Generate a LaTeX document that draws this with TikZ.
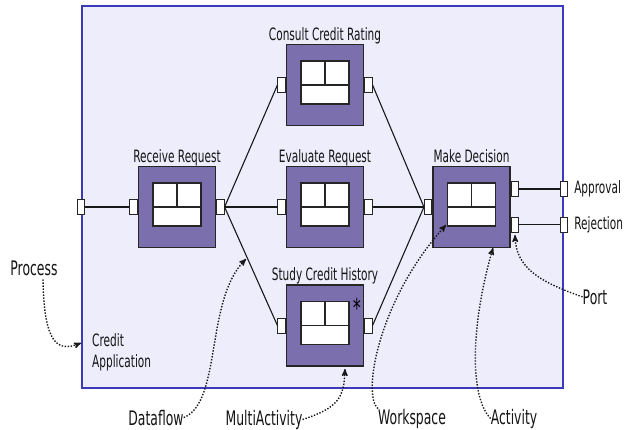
\documentclass[tikz,border=0pt]{standalone}
\usepackage{fontspec}
\setmainfont{DejaVu Sans}[FakeStretch=0.62]
\usetikzlibrary{arrows,positioning,calc}
\definecolor{actfill}{RGB}{124,111,173}
\definecolor{procfill}{RGB}{237,237,252}
\definecolor{procline}{RGB}{58,58,186}
\definecolor{txt}{RGB}{20,20,20}

\begin{document}
\begin{tikzpicture}[x=1bp, y=-1bp, >=stealth',
    activity/.style={draw=black!85, line width=1.1bp, fill=actfill, minimum width=77bp, minimum height=81bp, inner sep=0},
    port/.style={draw=black!85, line width=1bp, fill=white, minimum width=7.5bp, minimum height=15bp, inner sep=0},
    boxlabel/.style={font=\fontsize{17bp}{21bp}\selectfont, text=txt, inner sep=0},
    title/.style={boxlabel, text depth=0.25em},
    note/.style={font=\fontsize{20bp}{24bp}\selectfont, text=txt, inner sep=0},
    flow/.style={draw=black!90, line width=1.1bp},
    pointer/.style={->, line width=1.4bp, dash pattern=on 1.4bp off 1.6bp, black!90}]
    \useasboundingbox (0,0) rectangle (629,429);
    % Process
    \node [draw=procline, line width=1.6bp, fill=procfill, minimum width=481bp, minimum height=382bp, inner sep=0] (process) at (322.5,197) {};
    \node [boxlabel, align=left, anchor=north west] (process-name) at (92,333) {Credit\\Application};

    % Activities
    \node [activity] (receive) at (177,207) {};
    \node [activity] (consult) at (325,85) {};
    \node [activity] (evaluate) at (325,207) {};
    \node [activity] (study) at (325,325.5) {};
    \node [activity] (decide) at (471.5,207) {};
    \foreach \a in {receive,consult,evaluate,study,decide} {
        \draw [fill=white, line width=1.1bp, draw=black!85] ($(\a)+(-24,-24)$) rectangle ($(\a)+(24,19)$);
        \draw [line width=1.1bp, draw=black!85] ($(\a)+(-24,0)$) -- ($(\a)+(24,0)$);
        \draw [line width=1.1bp, draw=black!85] ($(\a)+(0,-24)$) -- ($(\a)+(0,0)$);
    }
    \node [font=\fontsize{26bp}{26bp}\selectfont, inner sep=0] (study-multi) at (357,308) {*};

    % Titles
    \node [title, above=1bp of receive] {Receive Request};
    \node [title, above=1bp of consult] {Consult Credit Rating};
    \node [title, above=1bp of evaluate] {Evaluate Request};
    \node [title, above=1bp of study] {Study Credit History};
    \node [title, above=1bp of decide] {Make Decision};

    % Ports
    \node [port, left=0pt of receive] (receive-in) {};
    \node [port, right=0pt of receive] (receive-out) {};
    \node [port, left=0pt of consult] (consult-in) {};
    \node [port, right=0pt of consult] (consult-out) {};
    \node [port, left=0pt of evaluate] (evaluate-in) {};
    \node [port, right=0pt of evaluate] (evaluate-out) {};
    \node [port, left=0pt of study] (study-in) {};
    \node [port, right=0pt of study] (study-out) {};
    \node [port, left=0pt of decide] (decide-in) {};
    \node [port, anchor=west] (decide-ok) at ($(decide.east)+(0,-18)$) {};
    \node [port, anchor=west] (decide-no) at ($(decide.east)+(0,17.5)$) {};
    \node [port] (process-in) at (process.west |- receive) {};
    \node [port] (process-ok) at (process.east |- decide-ok) {};
    \node [port] (process-no) at (process.east |- decide-no) {};
    \node [boxlabel, right=6bp of process-ok] (approval) {Approval};
    \node [boxlabel, right=6bp of process-no] (rejection) {Rejection};

    % Dataflows
    \draw [flow] (process-in.east) -- (receive-in.west);
    \draw [flow] (receive-out.east) -- (consult-in.west);
    \draw [flow] (receive-out.east) -- (evaluate-in.west);
    \draw [flow] (receive-out.east) -- (study-in.west);
    \draw [flow] (consult-out.east) -- (decide-in.west);
    \draw [flow] (evaluate-out.east) -- (decide-in.west);
    \draw [flow] (study-out.east) -- (decide-in.west);
    \draw [flow] (decide-ok.east) -- (process-ok.west);
    \draw [flow] (decide-no.east) -- (process-no.west);

    % Notes
    \node [note, anchor=base] (note-process) at (34,275) {Process};
    \node [note, anchor=base] (note-dataflow) at (156,425) {Dataflow};
    \node [note, anchor=base] (note-multi) at (264,425) {MultiActivity};
    \node [note, anchor=base] (note-workspace) at (412,424) {Workspace};
    \node [note, anchor=base] (note-activity) at (514,424) {Activity};
    \node [note, anchor=base] (note-port) at (595,304) {Port};
    \coordinate (to-process) at (81,343);
    \coordinate (to-dataflow) at (246,259);
    \coordinate (to-multi) at (345,369);
    \coordinate (to-workspace) at (446,225);
    \coordinate (to-activity) at (493,248);
    \coordinate (to-port) at (515,235);
    \draw [pointer] ($(note-process.south)+(9,4)$) .. controls (44,345) and (58,352) .. (to-process);
    \draw [pointer] (note-dataflow.east) .. controls (222,402) and (205,300) .. (to-dataflow);
    \draw [pointer] (note-multi.east) .. controls (338,408) and (344,398) .. (to-multi);
    \draw [pointer] (note-workspace.north west) .. controls (362,395) and (378,300) .. (to-workspace);
    \draw [pointer] (note-activity.west) .. controls (468,395) and (472,320) .. (to-activity);
    \draw [pointer] (note-port.west) .. controls (540,282) and (516,268) .. (to-port);
\end{tikzpicture}
\end{document}
